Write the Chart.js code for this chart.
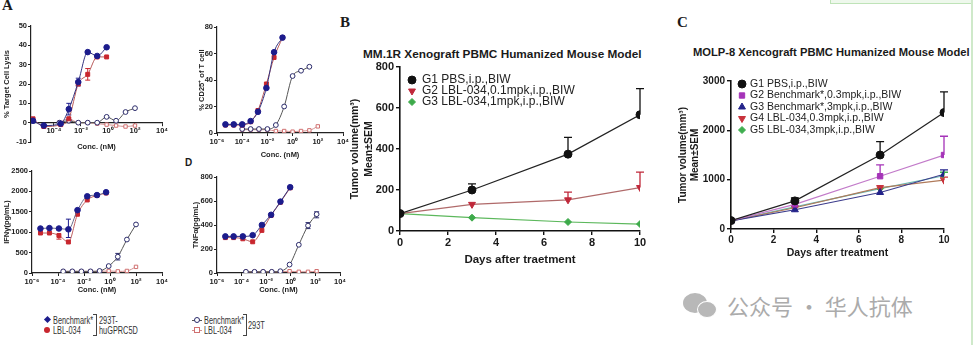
<!DOCTYPE html>
<html>
<head>
<meta charset="utf-8">
<script src="https://cdn.jsdelivr.net/npm/chart.js@4.4.1/dist/chart.umd.min.js"></script>
<style>
  body { margin: 0; width: 975px; height: 345px; background: #fff; position: relative; overflow: hidden;
         font-family: 'Liberation Sans', Arial, sans-serif; }
  canvas { position: absolute; }
  .t { position: absolute; white-space: nowrap; line-height: 1; color: #1a1a1a; }
  .letter { font-family: 'Liberation Serif', serif; font-weight: bold; font-size: 15px; }
  .ptitle { font-weight: bold; }
  .lt { position: absolute; white-space: nowrap; font-size: 10.5px; line-height: 10px; color: #333;
        transform: scaleX(0.7); transform-origin: left center; }
  .mk { position: absolute; box-sizing: border-box; }
  .br { position: absolute; border: 1px solid #444; border-left: none; width: 3px; }
  .seg { position: absolute; height: 1px; background: #555; }
</style>
</head>
<body>

<div class="t letter" style="left:2px;top:-2px">A</div>
<div class="t" style="left:185px;top:158px;font-weight:bold;font-size:10px">D</div>
<div class="t letter" style="left:340px;top:15px">B</div>
<div class="t letter" style="left:677px;top:15px">C</div>
<div class="t ptitle" style="left:363px;top:49px;font-size:11.8px">MM.1R Xenograft PBMC Humanized Mouse Model</div>
<div class="t ptitle" style="left:693px;top:47px;font-size:11.2px">MOLP-8 Xencograft PBMC Humanized Mouse Model</div>

<canvas id="lysis" width="172" height="140" style="left:0;top:18px"></canvas>
<canvas id="cd25" width="161" height="145" style="left:194px;top:17px"></canvas>
<canvas id="ifn" width="172" height="138" style="left:0;top:162px"></canvas>
<canvas id="tnf" width="165" height="132" style="left:188px;top:168px"></canvas>
<canvas id="mm1r" width="310" height="215" style="left:340px;top:55px"></canvas>
<canvas id="molp8" width="305" height="205" style="left:670px;top:60px"></canvas>

<!-- legend shared by the four panel A plots -->
<span class="mk" style="left:45px;top:317px;width:5px;height:5px;background:#1c1c8c;transform:rotate(45deg)"></span>
<span class="lt" style="left:53px;top:315px">Benchmark*</span>
<span class="mk" style="left:44px;top:327px;width:6px;height:6px;border-radius:50%;background:#c8262e"></span>
<span class="lt" style="left:53px;top:325px">LBL-034</span>
<span class="br" style="left:93px;top:314px;height:20px"></span>
<span class="lt" style="left:99px;top:315px">293T-</span>
<span class="lt" style="left:99px;top:325px">huGPRC5D</span>

<span class="seg" style="left:192px;top:320px;width:10px"></span>
<span class="mk" style="left:194px;top:317px;width:6px;height:6px;border-radius:50%;border:1px solid #2b2b6b;background:#fff"></span>
<span class="lt" style="left:204px;top:315px">Benchmark*</span>
<span class="seg" style="left:192px;top:330px;width:10px;background:#d49090"></span>
<span class="mk" style="left:194px;top:327px;width:6px;height:6px;border:1px solid #d07070;background:#fff"></span>
<span class="lt" style="left:204px;top:325px">LBL-034</span>
<span class="br" style="left:243px;top:314px;height:20px"></span>
<span class="lt" style="left:248px;top:320px">293T</span>

<!-- watermark -->
<span class="mk" style="left:683px;top:293px;width:24px;height:20px;border-radius:50%;background:#b8b8b8"></span>
<span class="mk" style="left:697px;top:301px;width:20px;height:17px;border-radius:50%;background:#b8b8b8;border:1.5px solid #fff"></span>
<div class="t" style="left:727px;top:294px;font-size:22px;color:#ababab;font-family:'Noto Sans CJK SC',sans-serif">公众号 · 华人抗体</div>

<!-- light green frame at the top right -->
<div style="position:absolute;left:830px;top:-2px;width:141px;height:4px;border:1.5px solid #bfe3b8;background:#eef8ec"></div>
<div style="position:absolute;left:971px;top:0;width:2px;height:345px;background:#cfe9ca"></div>

<script>
// ---- Panel A: dose response, x given as log10 of concentration (nM)
const concTickExp = [-6, -4, -2, 0, 2, 4];

const lysisDoseLog = [-5.55, -4.75, -3.5, -2.9, -2.2, -1.5, -0.8, -0.1];
const lysisBenchHu = [1, -1.5, -0.5, 7, 21, 36.5, 34.5, 39];
const lysisLblHu = [2, -2, -1, 2, 20, 25, 34, 34];
const lysisDose293Log = [-3.6, -2.9, -2.2, -1.5, -0.8, -0.1, 0.6, 1.3, 2.0];
const lysisBench293 = [0, 1, 0, 0, 0, 3, 1, 5.5, 7.5];
const lysisLbl293 = [0, 2, 0, 0, -0.5, -1, -1.5, -2, -1.5];

const cd25DoseLog = [-5.33, -4.67, -4.0, -3.33, -2.75, -2.08, -1.47, -0.8];
const cd25BenchHu = [6.5, 6.5, 6.5, 9, 16, 34, 61, 72];
const cd25LblHu = [6, 6, 6, 8.5, 17, 37, 57, 72];
const cd25Dose293Log = [-4.0, -3.33, -2.67, -2.0, -1.33, -0.67, 0, 0.67, 1.33, 2.0];
const cd25Bench293 = [3, 3, 3, 3, 6, 20, 43, 47, 50, null];
const cd25Lbl293 = [2.5, 2.5, 2.5, 2.5, 1.5, 1.5, 1, 1.5, 2, 5];

const ifnDoseLog = [-5.35, -4.66, -3.93, -3.2, -2.5, -1.75, -1.0, -0.3];
const ifnBenchHu = [1090, 1100, 1090, 1070, 1540, 1880, 1910, 1980];
const ifnLblHu = [980, 980, 920, 760, 1440, 1790, 1900, 1960];
const ifnDose293Log = [-3.6, -2.9, -2.2, -1.5, -0.8, -0.1, 0.6, 1.3, 2.0];
const ifnBench293 = [40, 40, 40, 40, 50, 170, 400, 820, 1190];
const ifnLbl293 = [40, 40, 40, 40, 40, 50, 40, 50, 150];

const tnfDoseLog = [-5.32, -4.65, -3.9, -3.1, -2.35, -1.6, -0.84, -0.05];
const tnfBenchHu = [305, 305, 305, 315, 400, 485, 595, 715];
const tnfLblHu = [295, 295, 285, 260, 355, 480, 590, 710];
const tnfDose293Log = [-3.65, -2.95, -2.25, -1.55, -0.85, -0.1, 0.65, 1.4, 2.1];
const tnfBench293 = [10, 10, 10, 10, 15, 70, 235, 395, 490];
const tnfLbl293 = [10, 10, 10, 10, 10, 15, 10, 10, 15];

// ---- Panels B and C: tumour volume (mm3), mean and upper SEM
const days = [0, 3, 7, 10];
const mmG1 = [85, 200, 375, 567];
const mmG1Sem = [0, 30, 82, 128];
const mmG2 = [85, 130, 152, 212];
const mmG2Sem = [0, 0, 38, 75];
const mmG3 = [85, 65, 44, 34];

const molpG1 = [170, 570, 1500, 2360];
const molpG1Sem = [0, 60, 270, 420];
const molpG2 = [170, 500, 1070, 1500];
const molpG2Sem = [0, 0, 230, 380];
const molpG3 = [165, 390, 740, 1110];
const molpG3Sem = [0, 0, 0, 90];
const molpG4 = [165, 430, 840, 990];
const molpG4Sem = [0, 0, 0, 60];
const molpG5 = [165, 450, 820, 1080];
const molpG5Sem = [0, 0, 0, 70];

Chart.defaults.font.family = "'Liberation Sans', Arial, sans-serif";
Chart.defaults.color = '#1a1a1a';

const NAVY = '#1c1c8c', RED = '#c8262e', OPEN_NAVY = '#2b2b6b', OPEN_RED = '#d07070';

function pts(xs, ys, isLog) {
  return xs.map((x, i) => ({ x: isLog ? Math.pow(10, x) : x, y: ys[i] }));
}

const SUP = { '-': '\u207B', '0': '\u2070', '1': '\u00B9', '2': '\u00B2', '3': '\u00B3', '4': '\u2074', '5': '\u2075', '6': '\u2076' };
function supLabel(v) {
  const e = Math.round(Math.log10(v));
  return '10' + String(e).split('').map(c => SUP[c]).join('');
}
const plain = v => String(v);

// upper / lower error bars drawn through the y scale
const errorBars = {
  id: 'errorBars',
  beforeDatasetsDraw(chart) {
    const ctx = chart.ctx, ys = chart.scales.y;
    chart.data.datasets.forEach((ds, i) => {
      if (!ds.errUp && !ds.errDown) return;
      const meta = chart.getDatasetMeta(i);
      ctx.save();
      ctx.strokeStyle = ds.pointBorderColor;
      ctx.lineWidth = ds.errWidth || 1;
      meta.data.forEach((el, j) => {
        const v = ds.data[j].y;
        if (v === null) return;
        [[ds.errUp, 1], [ds.errDown, -1]].forEach(([arr, s]) => {
          if (!arr || !arr[j]) return;
          const yEnd = ys.getPixelForValue(v + s * arr[j]);
          const cap = ds.errCap || 2.5;
          ctx.beginPath();
          ctx.moveTo(el.x, el.y);
          ctx.lineTo(el.x, yEnd);
          ctx.moveTo(el.x - cap, yEnd);
          ctx.lineTo(el.x + cap, yEnd);
          ctx.stroke();
        });
      });
      ctx.restore();
    });
  }
};

// legend drawn inside the plot area, one row per dataset
const insetLegend = {
  id: 'insetLegend',
  afterDatasetsDraw(chart, args, o) {
    const ctx = chart.ctx, a = chart.chartArea;
    ctx.save();
    ctx.font = o.font;
    ctx.textBaseline = 'middle';
    ctx.textAlign = 'left';
    chart.data.datasets.forEach((ds, i) => {
      const x = a.left + o.dx, y = a.top + o.dy + i * o.step;
      ctx.fillStyle = ds.pointBackgroundColor;
      ctx.strokeStyle = ds.pointBorderColor;
      ctx.lineWidth = 1;
      if (Chart.helpers && Chart.helpers.drawPoint) {
        Chart.helpers.drawPoint(ctx, { pointStyle: ds.pointStyle, radius: ds.pointRadius,
          rotation: ds.pointRotation || 0, borderWidth: 1 }, x, y);
      } else {
        ctx.beginPath(); ctx.arc(x, y, ds.pointRadius, 0, Math.PI * 2); ctx.fill();
      }
      ctx.fillStyle = o.color;
      ctx.fillText(ds.label, x + o.gap, y);
    });
    ctx.restore();
  }
};

function doseSet(label, logs, vals, color, lineColor, style, open, extra) {
  return Object.assign({
    label: label,
    data: pts(logs, vals, true),
    borderColor: lineColor,
    borderWidth: 1,
    pointStyle: style,
    pointRadius: open ? 2.4 : 2.8,
    pointBorderWidth: 1,
    pointBorderColor: color,
    pointBackgroundColor: open ? '#fff' : color,
    cubicInterpolationMode: 'monotone'
  }, extra || {});
}

function doseChart(id, o) {
  const tickFont = { size: 7.5, weight: 'bold' };
  const titleFont = { size: 7.5, weight: 'bold', lineHeight: 1.2 };
  return new Chart(document.getElementById(id), {
    type: 'line',
    data: { datasets: o.sets },
    options: {
      responsive: false, animation: false, devicePixelRatio: 1,
      layout: { padding: o.pad },
      plugins: { legend: { display: false }, tooltip: { enabled: false } },
      scales: {
        x: {
          type: 'logarithmic', min: o.xMin, max: 1e4,
          position: o.xAtZero ? { y: 0 } : 'bottom',
          afterBuildTicks: ax => { ax.ticks = o.xTicks.map(e => ({ value: Math.pow(10, e) })); },
          afterFit: ax => { ax.height = o.xHeight; },
          ticks: { callback: v => supLabel(v), font: tickFont, color: '#222', padding: 1, maxRotation: 0, autoSkip: false },
          grid: { drawOnChartArea: false, tickLength: 3, color: '#222' },
          border: { color: '#222', width: 1.2 },
          title: { display: true, text: 'Conc. (nM)', font: titleFont, color: '#222', padding: { top: 0, bottom: 1 } }
        },
        y: {
          min: o.yMin, max: o.yMax,
          afterFit: ax => { ax.width = o.yWidth; },
          ticks: { stepSize: o.yStep, callback: plain, font: tickFont, color: '#222', padding: 1 },
          grid: { drawOnChartArea: false, tickLength: 3, color: '#222' },
          border: { color: '#222', width: 1.2 },
          title: { display: true, text: o.yTitle, font: titleFont, color: '#222', padding: { top: o.yTitlePad, bottom: 0 } }
        }
      }
    },
    plugins: [errorBars]
  });
}

doseChart('lysis', {
  xMin: Math.pow(10, -5.7), xTicks: concTickExp.slice(1), xAtZero: true, xHeight: 30,
  yMin: -10, yMax: 50, yStep: 10, yWidth: 31, yTitle: '% Target Cell Lysis', yTitlePad: 2.5,
  pad: { left: 0, top: 8, right: 10, bottom: 16 },
  sets: [
    doseSet('Benchmark* 293T-huGPRC5D', lysisDoseLog, lysisBenchHu, NAVY, '#33337f', 'circle', false,
      { errUp: [0, 0, 0, 3, 2, 0, 0, 0], errDown: [0, 0, 0, 3, 2, 0, 0, 0] }),
    doseSet('LBL-034 293T-huGPRC5D', lysisDoseLog, lysisLblHu, RED, '#b85a5a', 'rect', false,
      { errUp: [0, 0, 0, 0, 0, 3, 0, 0], errDown: [0, 0, 0, 0, 0, 3, 0, 0] }),
    doseSet('Benchmark* 293T', lysisDose293Log, lysisBench293, OPEN_NAVY, '#555', 'circle', true),
    doseSet('LBL-034 293T', lysisDose293Log, lysisLbl293, OPEN_RED, '#d49090', 'rect', true)
  ]
});

doseChart('cd25', {
  xMin: 1e-6, xTicks: concTickExp, xAtZero: false, xHeight: 27,
  yMin: 0, yMax: 80, yStep: 20, yWidth: 23, yTitle: '% CD25\u207A of T cell', yTitlePad: 3,
  pad: { left: 0, top: 10, right: 12, bottom: 2 },
  sets: [
    doseSet('Benchmark* 293T-huGPRC5D', cd25DoseLog, cd25BenchHu, NAVY, '#33337f', 'circle', false),
    doseSet('LBL-034 293T-huGPRC5D', cd25DoseLog, cd25LblHu, RED, '#b85a5a', 'rect', false),
    doseSet('Benchmark* 293T', cd25Dose293Log, cd25Bench293, OPEN_NAVY, '#555', 'circle', true),
    doseSet('LBL-034 293T', cd25Dose293Log, cd25Lbl293, OPEN_RED, '#d49090', 'rect', true)
  ]
});

doseChart('ifn', {
  xMin: 1e-6, xTicks: concTickExp, xAtZero: false, xHeight: 22,
  yMin: 0, yMax: 2500, yStep: 500, yWidth: 32, yTitle: 'IFN\u03B3(pg/mL)', yTitlePad: 2,
  pad: { left: 0, top: 9, right: 10, bottom: 5 },
  sets: [
    doseSet('Benchmark* 293T-huGPRC5D', ifnDoseLog, ifnBenchHu, NAVY, '#6a6a8a', 'circle', false,
      { errUp: [0, 0, 0, 250, 0, 0, 0, 0], errDown: [0, 0, 0, 200, 0, 0, 0, 0] }),
    doseSet('LBL-034 293T-huGPRC5D', ifnDoseLog, ifnLblHu, RED, '#c06060', 'rect', false,
      { errDown: [0, 0, 90, 0, 0, 0, 0, 0] }),
    doseSet('Benchmark* 293T', ifnDose293Log, ifnBench293, OPEN_NAVY, '#555', 'circle', true,
      { errUp: [0, 0, 0, 0, 0, 0, 80, 0, 0], errDown: [0, 0, 0, 0, 0, 0, 80, 0, 0] }),
    doseSet('LBL-034 293T', ifnDose293Log, ifnLbl293, OPEN_RED, '#d49090', 'rect', true)
  ]
});

doseChart('tnf', {
  xMin: 1e-6, xTicks: concTickExp, xAtZero: false, xHeight: 22,
  yMin: 0, yMax: 800, yStep: 200, yWidth: 29, yTitle: 'TNF\u03B1(pg/mL)', yTitlePad: 3,
  pad: { left: 0, top: 9, right: 13, bottom: 5 },
  sets: [
    doseSet('Benchmark* 293T-huGPRC5D', tnfDoseLog, tnfBenchHu, NAVY, '#33337f', 'circle', false),
    doseSet('LBL-034 293T-huGPRC5D', tnfDoseLog, tnfLblHu, RED, '#b85a5a', 'rect', false),
    doseSet('Benchmark* 293T', tnfDose293Log, tnfBench293, OPEN_NAVY, '#555', 'circle', true,
      { errUp: [0, 0, 0, 0, 0, 0, 0, 25, 20], errDown: [0, 0, 0, 0, 0, 0, 0, 25, 30] }),
    doseSet('LBL-034 293T', tnfDose293Log, tnfLbl293, OPEN_RED, '#d49090', 'rect', true)
  ]
});

function groupSet(label, vals, sem, color, lineColor, style, radius, rotation) {
  return {
    label: label,
    data: pts(days, vals, false),
    borderColor: lineColor,
    borderWidth: 1.2,
    pointStyle: style,
    pointRadius: radius,
    pointRotation: rotation || 0,
    pointBorderWidth: 1,
    pointBorderColor: color,
    pointBackgroundColor: color,
    errUp: sem,
    errCap: 4,
    errWidth: 1.3
  };
}

function tumourChart(id, o) {
  const axisGrid = { drawOnChartArea: false, tickLength: 4, color: '#111', lineWidth: 1.4 };
  const axisBorder = { color: '#111', width: 1.6 };
  return new Chart(document.getElementById(id), {
    type: 'line',
    data: { datasets: o.sets },
    options: {
      responsive: false, animation: false, devicePixelRatio: 1,
      layout: { padding: o.pad },
      plugins: { legend: { display: false }, tooltip: { enabled: false }, insetLegend: o.legend },
      scales: {
        x: {
          type: 'linear', min: 0, max: 10,
          afterFit: ax => { ax.height = o.xHeight; },
          ticks: { stepSize: 2, callback: plain, font: o.tickFont, padding: 1, maxRotation: 0 },
          grid: axisGrid, border: axisBorder,
          title: { display: true, text: o.xTitle, font: o.xTitleFont, padding: 0 }
        },
        y: {
          min: 0, max: o.yMax,
          afterFit: ax => { ax.width = o.yWidth; },
          ticks: { stepSize: o.yStep, callback: plain, font: o.tickFont, padding: 2 },
          grid: axisGrid, border: axisBorder,
          title: { display: true, text: ['Tumor volume(mm\u00B3)', 'Mean\u00B1SEM'], font: o.titleFont,
                   padding: { top: o.yTitlePad, bottom: 0 } }
        }
      }
    },
    plugins: [errorBars, insetLegend]
  });
}

tumourChart('mm1r', {
  yMax: 800, yStep: 200, yWidth: 60, xHeight: 36, yTitlePad: 8.5,
  pad: { left: 0, top: 12, right: 10, bottom: 3 },
  tickFont: { size: 11, weight: 'bold' },
  titleFont: { size: 10.5, weight: 'bold', lineHeight: 1.3 },
  xTitleFont: { size: 11.5, weight: 'bold', lineHeight: 1.2 },
  xTitle: 'Days after traetment',
  legend: { dx: 12, dy: 13, step: 11, gap: 10, font: "12px 'Liberation Sans', Arial", color: '#222' },
  sets: [
    groupSet('G1 PBS,i.p.,BIW', mmG1, mmG1Sem, '#111', '#222', 'circle', 4),
    groupSet('G2 LBL-034,0.1mpk,i.p.,BIW', mmG2, mmG2Sem, '#c0283a', '#b06a6a', 'triangle', 4, 180),
    groupSet('G3 LBL-034,1mpk,i.p.,BIW', mmG3, null, '#3daa4a', '#5cb85c', 'rectRot', 3.5)
  ]
});

tumourChart('molp8', {
  yMax: 3000, yStep: 1000, yWidth: 61, xHeight: 30, yTitlePad: 7,
  pad: { left: 0, top: 21, right: 31, bottom: 6 },
  tickFont: { size: 10, weight: 'bold' },
  titleFont: { size: 10, weight: 'bold', lineHeight: 1.2 },
  xTitleFont: { size: 10.5, weight: 'bold', lineHeight: 1.2 },
  xTitle: 'Days after treatment',
  legend: { dx: 11, dy: 3, step: 11.5, gap: 8, font: "10.5px 'Liberation Sans', Arial", color: '#222' },
  sets: [
    groupSet('G1 PBS,i.p.,BIW', molpG1, molpG1Sem, '#111', '#222', 'circle', 4),
    groupSet('G2 Benchmark*,0.3mpk,i.p.,BIW', molpG2, molpG2Sem, '#a533b8', '#c27ac9', 'rect', 3.8),
    groupSet('G3 Benchmark*,3mpk,i.p.,BIW', molpG3, molpG3Sem, '#23238a', '#3c3c8c', 'triangle', 4),
    groupSet('G4 LBL-034,0.3mpk,i.p.,BIW', molpG4, molpG4Sem, '#c8323c', '#b07a5a', 'triangle', 4, 180),
    groupSet('G5 LBL-034,3mpk,i.p.,BIW', molpG5, molpG5Sem, '#3fae4f', '#6ab8b0', 'rectRot', 3.5)
  ]
});
</script>
</body>
</html>
